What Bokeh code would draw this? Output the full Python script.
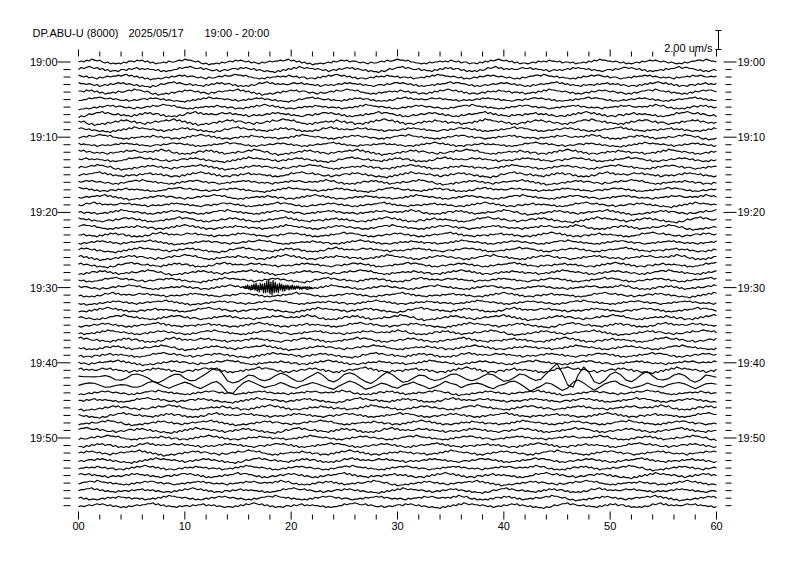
import numpy as np
from bokeh.plotting import figure
from bokeh.models import Range1d
from bokeh.core.properties import value
from bokeh.embed import file_html
from bokeh.resources import INLINE

# ---------------- data ----------------
title_parts = ["DP.ABU-U (8000)", "2025/05/17", "19:00 - 20:00"]
hour_label = "19"
minutes = list(range(60))
labeled_minutes = [0, 10, 20, 30, 40, 50]
x_minor_ticks = list(range(0, 61, 2))
x_major_ticks = [0, 10, 20, 30, 40, 50, 60]
x_major_labels = ["00", "10", "20", "30", "40", "50", "60"]
scale_bar_um = 2.0
scale_label = "2.00 um/s"

# background noise texture (digit 4 = zero, one step = 0.1 um/s), 0.25 s per sample
noise_chunks = [
    "45465765643423232435", "546564534233435445", "6576654532312232434546",
    "5654534324345455", "656756453423122323435456", "56455434324334546556",
    "766564433232434454", "5465453442332435465676", "56453423323435454655",
    "453443423343546576655454", "342323435456565454", "34323243455665765545",
    "3433232435456566545344", "32334354556564543434", "3243445465565445",
]
trace_offset = [
    0, 137, 61, 223, 19, 171, 88, 250, 43, 199,
    112, 7, 274, 156, 33, 95, 212, 141, 69, 288,
    180, 25, 118, 263, 52, 197, 80, 239, 14, 165,
    101, 281, 46, 130, 219, 73, 185, 258, 9, 147,
    64, 295, 120, 37, 206, 153, 86, 242, 29, 176,
    109, 268, 56, 191, 133, 3, 229, 98, 162, 75,
]
trace_gain = [
    1.0, 1.1, 1.0, 1.0, 1.1, 0.9, 1.0, 1.1, 1.2, 1.0,
    1.0, 0.9, 1.1, 1.0, 1.0, 1.1, 1.0, 0.9, 1.0, 1.0,
    1.0, 1.1, 1.0, 1.0, 0.9, 1.0, 1.1, 1.0, 1.0, 1.0,
    1.0, 1.0, 0.9, 1.0, 1.1, 1.0, 1.0, 1.1, 1.0, 1.0,
    1.0, 1.2, 0.6, 0.6, 1.0, 1.0, 1.1, 1.0, 1.0, 1.1,
    1.0, 1.0, 1.1, 1.0, 1.0, 1.1, 1.0, 1.0, 1.0, 1.0,
]

# local event on 19:30 trace, 0.1 s per sample starting at 15.5 s (units of 0.1 um/s)
burst_minute = 30
burst_start = 15.5
burst = [
    1, -1, 2, -1, 3, -2, 2, -3, 3, -2,
    4, -3, 5, -4, 3, -5, 5, -3, 4, -6,
    5, -6, 7, -5, 8, -7, 6, -8, 8, -6,
    6, -5, 4, -6, 5, -3, 4, -4, 3, -4,
    3, -2, 3, -3, 2, -2, 3, -2, 2, -2,
    2, -1, 2, -2, 1, -2, 1, -1, 1, -1,
    1, -1, 1, 0, 0, 0,
]

# teleseismic waves on 19:42 and 19:43, 0.5 s per sample (units of 0.1 um/s)
lp42 = [
    0, 0, 0, 1, 2, 3, 1, -2, -3, -1,
    2, 4, 3, 0, -3, -4, -2, 1, 3, 2,
    -1, -3, -2, 2, 5, 9, 11, 5, -3, -6,
    -4, 0, 3, 2, -1, -3, -2, 1, 3, 2,
    -1, -4, -3, 1, 4, 6, 2, -3, -5, -2,
    3, 6, 4, 0, -4, -6, -3, 1, 4, 3,
    -1, -4, -3, 1, 4, 3, -1, -4, -3, 0,
    3, 4, 2, -1, -3, -2, 1, 3, 2, -1,
    -3, -2, 1, 4, 3, -1, -4, -2, 4, 10,
    15, 5, -8, -11, 2, 12, 7, -3, -5, -2,
    3, 5, 2, -3, -4, 0, 4, 6, 2, -3,
    -4, -2, 3, 5, 3, -1, -4, -2, 3, 2, 0,
]
lp43 = [
    0, 1, 2, 1, -1, -2, -1, 1, 2, 1,
    -1, -2, -1, 1, 3, 1, -1, -3, 0, 2,
    4, 1, -2, -4, -1, 2, 4, 1, -6, -8,
    -3, 2, 4, 1, -1, -3, -1, 1, 3, 1,
    -1, -3, -1, 1, 3, 2, 0, -2, -3, 0,
    2, 4, 1, -1, -4, -2, 1, 3, 1, -1,
    -3, -1, 1, 3, 1, -1, -3, -1, 1, 3,
    1, -1, -3, -1, 1, 3, 1, -1, -3, -1,
    1, 3, 4, 1, -2, -5, -2, 1, 4, 2,
    -2, -6, -4, 2, 5, 2, -1, -4, -2, 1,
    3, 4, 1, -1, -3, -1, 1, 3, 1, -1,
    -3, -1, 1, 3, 1, -1, -3, -1, 1, 1, 0,
]
lp_traces = {42: lp42, 43: lp43}

# ---------------- geometry ----------------
W, H = 780, 558
PAGE = 0
X0 = 78.0
PX_PER_S = (716.0 - 78.0) / 60.0
Y0 = 61.5            # page y of first trace
GAP_PX = 7.52        # trace spacing in px
PX_PER_UM = 9.5
UNIT = 0.1           # um/s per noise step


def xs_of(px):
    return (px - X0) / PX_PER_S


def ys_of(py):
    return -(py - Y0) / PX_PER_UM


p = figure(width=W, height=H, output_backend="svg", toolbar_location=None,
           x_range=Range1d(xs_of(PAGE), xs_of(PAGE + W)),
           y_range=Range1d(ys_of(PAGE + H), ys_of(PAGE)),
           x_axis_location=None, y_axis_location=None, min_border=0)
p.grid.visible = False
p.outline_line_color = None
p.background_fill_color = "white"
p.border_fill_color = "white"

pattern = np.array([int(c) - 4 for chunk in noise_chunks for c in chunk], float)
L = len(pattern)
rev = pattern[::-1]


def base(m):
    return -m * GAP_PX / PX_PER_UM


xs_all, ys_all = [], []
t_fine = np.arange(0, 60.0001, 0.25)
t_lp = np.arange(0, 60.0001, 0.5)
for m in minutes:
    src = pattern if m % 2 == 0 else rev
    if m in lp_traces:
        idx = (trace_offset[m] + 2 * np.arange(len(t_lp))) % L
        y = base(m) + UNIT * (np.array(lp_traces[m]) + trace_gain[m] * src[idx])
        xs_all.append(t_lp)
    else:
        idx = (trace_offset[m] + np.arange(len(t_fine))) % L
        y = base(m) + UNIT * trace_gain[m] * src[idx]
        xs_all.append(t_fine)
    ys_all.append(y)

tb = burst_start + 0.1 * np.arange(len(burst))
xs_all.append(tb)
ys_all.append(base(burst_minute) + UNIT * np.array(burst, float))

p.multi_line(xs=xs_all, ys=ys_all, line_color="black", line_width=1.15)

# ---------------- time ticks / labels ----------------
top_base = ys_of(56)
bot_base = ys_of(519)
tick_len_major = 7 / PX_PER_UM
tick_len_minor = 5 / PX_PER_UM
tx, ty0, ty1, bx, by0, by1 = [], [], [], [], [], []
for v in x_minor_ticks:
    L_t = tick_len_major if v in x_major_ticks else tick_len_minor
    tx.append(v); ty0.append(top_base); ty1.append(top_base + L_t)
    bx.append(v); by0.append(bot_base); by1.append(bot_base + L_t + (1 / PX_PER_UM if v in x_major_ticks else 0))
p.segment(x0=tx, y0=ty0, x1=tx, y1=ty1, line_color="black", line_width=1)
p.segment(x0=bx, y0=by0, x1=bx, y1=by1, line_color="black", line_width=1)

font = value("Liberation Sans")
fs = value("11px")
p.text(x=x_major_ticks, y=[ys_of(521)] * len(x_major_ticks), text=x_major_labels,
       text_font=font, text_font_size=fs, text_align="center", text_baseline="top",
       text_color="black")

# minute marks on both sides
lx0, lx1, ly, rx0, rx1 = [], [], [], [], []
for m in minutes:
    yb = base(m)
    if m in labeled_minutes:
        lx0.append(xs_of(57)); lx1.append(xs_of(70))
        rx0.append(xs_of(723)); rx1.append(xs_of(736))
    else:
        lx0.append(xs_of(63)); lx1.append(xs_of(70))
        rx0.append(xs_of(725)); rx1.append(xs_of(731))
    ly.append(yb)
p.segment(x0=lx0, y0=ly, x1=lx1, y1=ly, line_color="black", line_width=1)
p.segment(x0=rx0, y0=ly, x1=rx1, y1=ly, line_color="black", line_width=1)

lab_text = ["%s:%02d" % (hour_label, m) for m in labeled_minutes]
lab_y = [base(m) for m in labeled_minutes]
p.text(x=[xs_of(57)] * len(lab_text), y=lab_y, text=lab_text, text_font=font,
       text_font_size=fs, text_align="right", text_baseline="alphabetic", text_color="black")
p.text(x=[xs_of(737)] * len(lab_text), y=lab_y, text=lab_text, text_font=font,
       text_font_size=fs, text_align="left", text_baseline="alphabetic", text_color="black")

# ---------------- scale bar ----------------
bar_x = xs_of(718)
bar_y0 = ys_of(49)
bar_y1 = bar_y0 + scale_bar_um
p.segment(x0=[bar_x, xs_of(715), xs_of(715)], y0=[bar_y0, bar_y0, bar_y1],
          x1=[bar_x, xs_of(721), xs_of(721)], y1=[bar_y1, bar_y0, bar_y1],
          line_color="black", line_width=1)
p.text(x=[xs_of(712)], y=[ys_of(47)], text=[scale_label], text_font=font, text_font_size=fs,
       text_align="right", text_baseline="alphabetic", text_color="black")

# ---------------- title ----------------
p.text(x=[xs_of(32), xs_of(128), xs_of(204)], y=[ys_of(32)] * 3, text=title_parts,
       text_font=font, text_font_size=fs, text_align="left", text_baseline="alphabetic",
       text_color="black")

open("out.html", "w").write(file_html(p, INLINE))
